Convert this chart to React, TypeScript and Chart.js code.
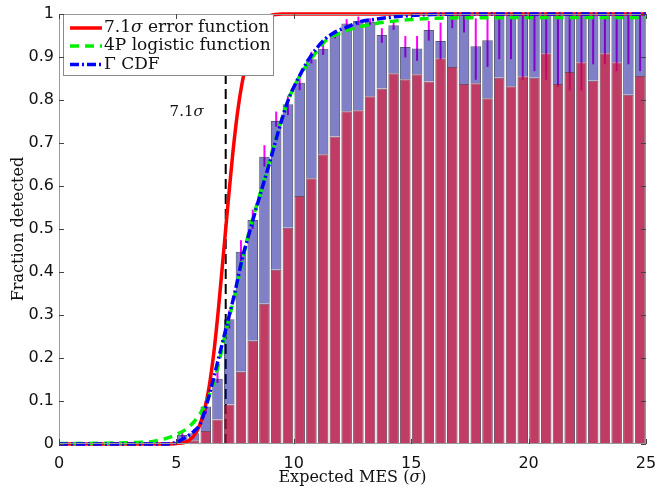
import React, { useEffect, useRef } from 'react';
import { Chart, registerables } from 'chart.js';

Chart.register(...registerables);

// ---------- data ----------
const binCenters = [
  5.25, 5.75, 6.25, 6.75, 7.25, 7.75, 8.25, 8.75, 9.25, 9.75,
  10.25, 10.75, 11.25, 11.75, 12.25, 12.75, 13.25, 13.75, 14.25, 14.75,
  15.25, 15.75, 16.25, 16.75, 17.25, 17.75, 18.25, 18.75, 19.25, 19.75,
  20.25, 20.75, 21.25, 21.75, 22.25, 22.75, 23.25, 23.75, 24.25, 24.75,
];
// total fraction detected (blue bars)
const fractionTotal = [
  0.021, 0.025, 0.087, 0.152, 0.29, 0.447, 0.521, 0.668, 0.751, 0.79,
  0.84, 0.895, 0.919, 0.953, 0.978, 0.984, 0.982, 0.951, 0.974, 0.923,
  0.92, 0.963, 0.937, 1.0, 1.0, 0.925, 0.939, 1.0, 1.0, 1.0,
  1.0, 1.0, 1.0, 1.0, 1.0, 1.0, 1.0, 1.0, 1.0, 1.0,
];
// stricter fraction detected (red bars)
const fractionStrict = [
  0.005, 0.009, 0.03, 0.057, 0.092, 0.168, 0.24, 0.326, 0.405, 0.503,
  0.577, 0.618, 0.674, 0.715, 0.774, 0.776, 0.809, 0.827, 0.862, 0.848,
  0.86, 0.843, 0.897, 0.877, 0.837, 0.839, 0.804, 0.852, 0.832, 0.855,
  0.852, 0.909, 0.837, 0.865, 0.888, 0.845, 0.909, 0.888, 0.812, 0.856,
];
// error bar ends on the blue bars
const errLow = [
  0.012, 0.015, 0.07, 0.142, 0.269, 0.42, 0.5, 0.645, 0.738, 0.765,
  0.823, 0.885, 0.905, 0.943, 0.971, 0.974, 0.975, 0.933, 0.963, 0.899,
  0.891, 0.938, 0.893, 0.967, 0.957, 0.847, 0.877, 0.895, 0.895, 0.847,
  0.867, 0.847, 0.83, 0.822, 0.822, 0.883, 0.883, 0.867, 0.883, 0.867,
];
const errHigh = [
  0.032, 0.035, 0.1, 0.177, 0.311, 0.474, 0.545, 0.695, 0.773, 0.81,
  0.85, 0.912, 0.93, 0.962, 0.988, 0.994, 0.99, 0.967, 0.986, 0.949,
  0.949, 0.984, 0.98, 1.0, 1.0, 0.99, 0.99, 1.0, 1.0, 1.0,
  1.0, 1.0, 1.0, 1.0, 1.0, 1.0, 1.0, 1.0, 1.0, 1.0,
];
// fitted curves
const erfX = [0, 4.5, 5.0, 5.5, 5.8, 6.0, 6.2, 6.4, 6.6, 6.8, 7.0, 7.1, 7.2, 7.4, 7.6, 7.8, 8.0, 8.2, 8.4, 8.7, 9.0, 9.5, 10, 25];
const erfY = [0, 0, 0.001, 0.007, 0.023, 0.045, 0.08, 0.135, 0.215, 0.32, 0.44, 0.5, 0.56, 0.675, 0.77, 0.84, 0.89, 0.93, 0.96, 0.985, 0.996, 1, 1, 1];
const logisticX = [0, 1, 2, 3, 3.5, 4.0, 4.5, 5.0, 5.5, 5.9, 6.3, 6.7, 7.1, 7.5, 7.8, 8.1, 8.5, 9.0, 9.4, 9.8, 10.3, 10.8, 11.3, 11.8, 12.5, 13.5, 15, 17, 25];
const logisticY = [0.001, 0.001, 0.002, 0.003, 0.004, 0.006, 0.012, 0.022, 0.038, 0.062, 0.1, 0.165, 0.26, 0.35, 0.425, 0.495, 0.57, 0.665, 0.74, 0.805, 0.86, 0.9, 0.935, 0.952, 0.966, 0.978, 0.987, 0.991, 0.992];
const gammaX = [0, 4.5, 5.0, 5.4, 5.8, 6.0, 6.2, 6.5, 6.8, 7.15, 7.5, 7.8, 8.1, 8.5, 9.0, 9.4, 9.8, 10.3, 10.7, 11.3, 11.8, 12.3, 12.8, 13.5, 14.2, 15.5, 17, 25];
const gammaY = [0, 0, 0.004, 0.016, 0.032, 0.045, 0.075, 0.135, 0.2, 0.277, 0.355, 0.43, 0.49, 0.567, 0.66, 0.738, 0.805, 0.862, 0.9, 0.94, 0.959, 0.97, 0.982, 0.988, 0.993, 0.998, 1, 1];
const thresholdX = [7.1, 7.1];
const thresholdY = [0, 1];
const seriesLabels = ['7.1σ error function', '4P logistic function', 'Γ CDF'];
const thresholdLabel = '7.1σ';
const xTicks = [0, 5, 10, 15, 20, 25];
const yTicks = [0, 0.1, 0.2, 0.3, 0.4, 0.5, 0.6, 0.7, 0.8, 0.9, 1];
const yTickLabels = ['0', '0.1', '0.2', '0.3', '0.4', '0.5', '0.6', '0.7', '0.8', '0.9', '1'];
const xTitle = 'Expected MES (σ)';
const yTitle = 'Fraction detected';

// ---------- styles ----------
const SERIF = '"DejaVu Serif", serif';
const SANS = '"DejaVu Sans", sans-serif';
const RED = '#ff0000';
const GREEN = '#00f000';
const BLUE = '#0000ff';
const GREEN_DASH = [9, 6];
const BLUE_DASH = [9, 3, 2, 3];

function drawRich(ctx: CanvasRenderingContext2D, text: string, size: number, x: number, y: number, align: 'left' | 'center' | 'right') {
  const parts = text.split(/(σ)/).filter((p) => p.length > 0);
  const segs = parts.map((p) => ({ t: p, f: p === 'σ' ? `italic ${size}px ${SERIF}` : `${size}px ${SERIF}` }));
  let total = 0;
  for (const s of segs) { ctx.font = s.f; total += ctx.measureText(s.t).width; }
  let cx = align === 'center' ? x - total / 2 : align === 'right' ? x - total : x;
  ctx.textAlign = 'left';
  for (const s of segs) { ctx.font = s.f; ctx.fillText(s.t, cx, y); cx += ctx.measureText(s.t).width; }
}

const errorBarPlugin = {
  id: 'errorBars',
  beforeDatasetsDraw(chart: any) {
    const { ctx, scales } = chart;
    const xs = scales.x, ys = scales.y;
    ctx.save();
    ctx.strokeStyle = '#ff00ff';
    ctx.lineWidth = 2;
    for (let i = 0; i < binCenters.length; i++) {
      const px = xs.getPixelForValue(binCenters[i]);
      ctx.beginPath();
      ctx.moveTo(px, ys.getPixelForValue(errLow[i]));
      ctx.lineTo(px, ys.getPixelForValue(errHigh[i]));
      ctx.stroke();
    }
    ctx.restore();
  },
};

const decorPlugin = {
  id: 'decor',
  afterDatasetsDraw(chart: any) {
    const { ctx, scales, chartArea } = chart;
    const xs = scales.x, ys = scales.y;
    const { left, right, top, bottom } = chartArea;
    ctx.save();
    ctx.fillStyle = '#111';
    ctx.textBaseline = 'middle';
    // threshold annotation
    drawRich(ctx, thresholdLabel, 15, xs.getPixelForValue(thresholdX[0]) - 22, ys.getPixelForValue(0.772), 'right');

    // legend
    const lx = left + 4, ly = top, lw = 210, lh = 61;
    ctx.fillStyle = '#ffffff';
    ctx.fillRect(lx, ly, lw, lh);
    ctx.strokeStyle = '#8a8a8a';
    ctx.lineWidth = 1;
    ctx.strokeRect(lx + 0.5, ly + 0.5, lw, lh);
    const rows = [
      { c: RED, d: [] as number[], y: ly + 14 },
      { c: GREEN, d: GREEN_DASH, y: ly + 32 },
      { c: BLUE, d: BLUE_DASH, y: ly + 50.5 },
    ];
    rows.forEach((r, i) => {
      ctx.strokeStyle = r.c;
      ctx.lineWidth = 3.5;
      ctx.setLineDash(r.d);
      ctx.beginPath();
      ctx.moveTo(lx + 7, r.y);
      ctx.lineTo(lx + 39, r.y);
      ctx.stroke();
      ctx.setLineDash([]);
      ctx.fillStyle = '#111';
      drawRich(ctx, seriesLabels[i], 17, lx + 41, r.y, 'left');
    });

    // frame and inward ticks
    ctx.strokeStyle = '#9a9a9a';
    ctx.lineWidth = 1;
    ctx.strokeRect(left + 0.5, top + 0.5, right - left - 1, bottom - top - 1);
    ctx.strokeStyle = '#444';
    ctx.beginPath();
    for (const t of xTicks) {
      const px = Math.round(xs.getPixelForValue(t)) + 0.5;
      ctx.moveTo(px, bottom); ctx.lineTo(px, bottom - 5);
      ctx.moveTo(px, top); ctx.lineTo(px, top + 5);
    }
    for (const t of yTicks) {
      const py = Math.round(ys.getPixelForValue(t)) + 0.5;
      ctx.moveTo(left, py); ctx.lineTo(left + 5, py);
      ctx.moveTo(right, py); ctx.lineTo(right - 5, py);
    }
    ctx.stroke();

    // axis titles
    ctx.fillStyle = '#111';
    drawRich(ctx, xTitle, 16, (left + right) / 2, 478, 'center');
    ctx.translate(19, (top + bottom) / 2);
    ctx.rotate(-Math.PI / 2);
    drawRich(ctx, yTitle, 16, 0, 0, 'center');
    ctx.restore();
  },
};

export default function App() {
  const ref = useRef<HTMLCanvasElement>(null);
  useEffect(() => {
    document.body.style.margin = '0';
    const lineDs = (xsArr: number[], ysArr: number[], color: string, dash: number[], order: number, label: string) => ({
      type: 'line' as const,
      label,
      data: xsArr.map((x, i) => ({ x, y: ysArr[i] })),
      borderColor: color,
      borderWidth: 3.5,
      borderDash: dash,
      pointRadius: 0,
      fill: false,
      cubicInterpolationMode: 'monotone' as const,
      clip: false as any,
      order,
    });
    const chart = new Chart(ref.current as HTMLCanvasElement, {
      type: 'bar',
      data: {
        datasets: [
          {
            type: 'line',
            label: 'threshold',
            data: thresholdX.map((x, i) => ({ x, y: thresholdY[i] })),
            borderColor: '#000',
            borderWidth: 2,
            borderDash: [10, 5],
            pointRadius: 0,
            order: 30,
          } as any,
          {
            type: 'bar',
            label: 'total',
            data: binCenters.map((x, i) => ({ x, y: [fractionStrict[i], fractionTotal[i]] })),
            backgroundColor: 'rgba(1,1,145,0.5)',
            borderColor: 'rgba(35,35,80,0.75)',
            borderWidth: 1,
            grouped: false,
            barPercentage: 0.9,
            categoryPercentage: 1,
            order: 21,
          } as any,
          {
            type: 'bar',
            label: 'strict',
            data: binCenters.map((x, i) => ({ x, y: fractionStrict[i] })),
            backgroundColor: 'rgba(176,11,61,0.8)',
            borderColor: 'rgba(70,15,45,0.75)',
            borderWidth: 1,
            grouped: false,
            barPercentage: 0.9,
            categoryPercentage: 1,
            order: 20,
          } as any,
          lineDs(erfX, erfY, RED, [], 3, seriesLabels[0]) as any,
          lineDs(logisticX, logisticY, GREEN, GREEN_DASH, 2, seriesLabels[1]) as any,
          lineDs(gammaX, gammaY, BLUE, BLUE_DASH, 1, seriesLabels[2]) as any,
        ],
      },
      options: {
        animation: false,
        responsive: false,
        maintainAspectRatio: false,
        layout: { padding: { left: 0, right: 11, top: 14, bottom: 0 } },
        plugins: { legend: { display: false }, tooltip: { enabled: false } },
        scales: {
          x: {
            type: 'linear',
            min: 0,
            max: 25,
            offset: false,
            grid: { display: false, drawTicks: false, offset: false },
            border: { display: false },
            ticks: {
              stepSize: 5,
              padding: 10,
              autoSkip: false,
              maxRotation: 0,
              color: '#111',
              font: { family: SANS, size: 16 },
            },
            afterFit: (s: any) => { s.height = 45; s.paddingLeft = 0; s.paddingRight = 0; },
          },
          y: {
            type: 'linear',
            min: 0,
            max: 1,
            grid: { display: false, drawTicks: false },
            border: { display: false },
            ticks: {
              stepSize: 0.1,
              padding: 5,
              color: '#111',
              font: { family: SANS, size: 16 },
              callback: (_v: any, idx: number) => yTickLabels[idx],
            },
            afterFit: (s: any) => { s.width = 59; s.paddingTop = 0; s.paddingBottom = 0; },
          },
        },
      } as any,
      plugins: [errorBarPlugin, decorPlugin],
    });
    return () => chart.destroy();
  }, []);
  return (
    <div style={{ width: 657, height: 489 }}>
      <canvas ref={ref} width={657} height={489} style={{ display: 'block' }} />
    </div>
  );
}
